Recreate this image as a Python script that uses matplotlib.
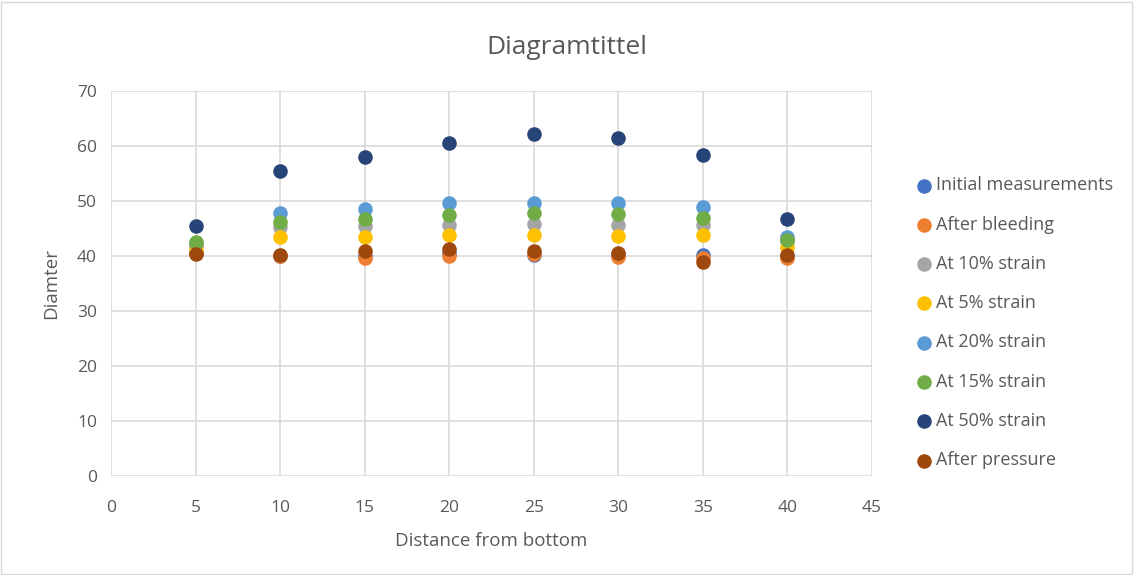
import matplotlib.pyplot as plt

plt.rcParams['font.family'] = ['Open Sans', 'DejaVu Sans']

distance = [5, 10, 15, 20, 25, 30, 35, 40]

initial = [40.5, 40.0, 40.0, 40.5, 40.1, 40.2, 40.1, 40.0]
after_bleeding = [40.5, 40.0, 39.7, 40.0, 40.3, 39.8, 39.7, 39.6]
strain_10 = [42.0, 45.3, 45.5, 45.6, 45.9, 45.6, 45.6, 42.8]
strain_5 = [41.5, 43.4, 43.5, 43.9, 43.8, 43.7, 43.8, 41.6]
strain_20 = [42.4, 47.9, 48.5, 49.6, 49.6, 49.7, 48.9, 43.5]
strain_15 = [42.6, 46.1, 46.7, 47.5, 47.8, 47.6, 47.0, 42.9]
strain_50 = [45.5, 55.5, 58.0, 60.6, 62.1, 61.5, 58.3, 46.8]
after_pressure = [40.4, 40.1, 41.0, 41.3, 41.0, 40.5, 39.0, 40.2]

series = [
    ("Initial measurements", initial, "#4472C4"),
    ("After bleeding", after_bleeding, "#ED7D31"),
    ("At 10% strain", strain_10, "#A5A5A5"),
    ("At 5% strain", strain_5, "#FFC000"),
    ("At 20% strain", strain_20, "#5B9BD5"),
    ("At 15% strain", strain_15, "#70AD47"),
    ("At 50% strain", strain_50, "#264478"),
    ("After pressure", after_pressure, "#9E480E"),
]

fig = plt.figure(figsize=(11.34, 5.75), dpi=100)
ax = fig.add_axes([111 / 1134, 1 - 476 / 575, 761 / 1134, 385 / 575])

for name, vals, col in series:
    ax.scatter(distance, vals, s=110, color=col, label=name, zorder=3, linewidths=0)

ax.set_xlim(0, 45)
ax.set_ylim(0, 70)
ax.set_xticks(range(0, 46, 5))
ax.set_yticks(range(0, 71, 10))
ax.grid(True, color="#D9D9D9", linewidth=1.2, zorder=0)
for s in ax.spines.values():
    s.set_visible(False)
ax.tick_params(axis="x", length=0, colors="#595959", labelsize=12.5, pad=17)
ax.tick_params(axis="y", length=0, colors="#595959", labelsize=12.5, pad=10)
ax.set_xlabel("Distance from bottom", fontsize=13.5, color="#595959", labelpad=12)
ax.set_ylabel("Diamter", fontsize=13.5, color="#595959", labelpad=12)

fig.suptitle("Diagramtittel", y=0.94, fontsize=19, color="#595959")

fig.legend(loc="upper left", bbox_to_anchor=(897 / 1134, 1 - 160 / 575), frameon=False,
           fontsize=13, labelcolor="#595959", handletextpad=0.05, labelspacing=1.18,
           markerscale=1.0, handlelength=1.2)

fig.patches.append(plt.Rectangle((0.001, 0.002), 0.997, 0.995, transform=fig.transFigure,
                                 fill=False, edgecolor="#D9D9D9", linewidth=1))

fig.savefig("out.png", dpi=100)
